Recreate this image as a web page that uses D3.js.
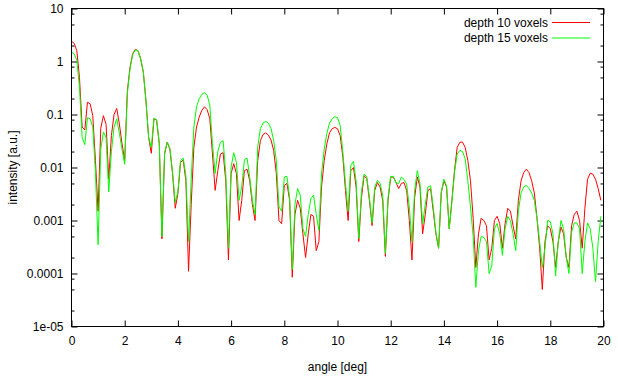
<html>
<head>
<title>intensity vs angle</title>
<script src="https://d3js.org/d3.v7.min.js"></script>
<style>
  body { margin: 0; background: #fff; }
  text { font-family: "Liberation Sans", Arial, sans-serif; font-size: 12px; fill: #000; }
</style>
</head>
<body>
<div id="chart"></div>
<script>

// sampled every 0.1 deg, starting at 0
var angleStep = 0.1;

var depth10 = [
  2.4, 2.2, 1.6, 0.5, 0.058, 0.051, 0.17, 0.16, 0.095, 0.0135,
  0.0015, 0.055, 0.095, 0.065, 0.006, 0.04, 0.1, 0.13, 0.066, 0.028,
  0.0135, 0.28, 0.78, 1.4, 1.7, 1.6, 1.12, 0.63, 0.18, 0.037,
  0.0185, 0.083, 0.078, 0.028, 0.00045, 0.018, 0.03, 0.022, 0.0076, 0.0017,
  0.0032, 0.0126, 0.0138, 0.0056, 0.00011, 0.002, 0.024, 0.058, 0.089, 0.12,
  0.14, 0.123, 0.083, 0.018, 0.0037, 0.0087, 0.018, 0.019, 0.0056, 0.00018,
  0.0077, 0.0118, 0.0077, 0.001, 0.0024, 0.0087, 0.0093, 0.0056, 0.002, 0.001,
  0.0135, 0.032, 0.042, 0.045, 0.041, 0.033, 0.021, 0.0077, 0.001, 0.00087,
  0.0046, 0.005, 0.0024, 0.000085, 0.0013, 0.0024, 0.0017, 0.00056, 0.0002, 0.00056,
  0.0013, 0.0012, 0.00027, 0.0004, 0.0043, 0.0135, 0.028, 0.045, 0.054, 0.057,
  0.054, 0.04, 0.016, 0.0037, 0.001, 0.0087, 0.01, 0.0043, 0.0004, 0.0027,
  0.007, 0.0062, 0.0024, 0.0008, 0.0037, 0.0052, 0.0043, 0.0024, 0.00021, 0.0024,
  0.0066, 0.0066, 0.0052, 0.004, 0.005, 0.0052, 0.0037, 0.001, 0.00018, 0.0027,
  0.0066, 0.0043, 0.00056, 0.0013, 0.0037, 0.004, 0.0015, 0.00056, 0.0003, 0.0033,
  0.0056, 0.0043, 0.0007, 0.0024, 0.009, 0.024, 0.03, 0.03, 0.024, 0.0135,
  0.0056, 0.0011, 0.00013, 0.00056, 0.0011, 0.001, 0.0008, 0.00018, 0.0003, 0.001,
  0.0012, 0.00087, 0.0003, 0.00087, 0.0017, 0.0015, 0.0008, 0.00045, 0.0024, 0.0056,
  0.008, 0.0093, 0.008, 0.0056, 0.0033, 0.0011, 0.0003, 0.00005, 0.0004, 0.0008,
  0.0007, 0.0004, 0.00013, 0.0004, 0.00075, 0.00056, 0.0002, 0.00013, 0.0008, 0.0013,
  0.0015, 0.001, 0.0003, 0.0017, 0.006, 0.0078, 0.0075, 0.006, 0.004, 0.0024
];

var depth15 = [
  1.5, 1.4, 1.05, 0.33, 0.037, 0.027, 0.087, 0.083, 0.058, 0.008,
  0.00035, 0.022, 0.047, 0.037, 0.0035, 0.02, 0.058, 0.083, 0.044, 0.022,
  0.0115, 0.25, 0.72, 1.35, 1.65, 1.6, 1.12, 0.63, 0.18, 0.037,
  0.024, 0.085, 0.08, 0.029, 0.0005, 0.019, 0.03, 0.023, 0.008, 0.0022,
  0.0035, 0.0135, 0.015, 0.007, 0.0004, 0.006, 0.058, 0.14, 0.2, 0.24,
  0.26, 0.23, 0.15, 0.028, 0.0077, 0.02, 0.03, 0.032, 0.0077, 0.0003,
  0.0102, 0.019, 0.0125, 0.0024, 0.0043, 0.014, 0.015, 0.0066, 0.0024, 0.0013,
  0.024, 0.054, 0.069, 0.074, 0.069, 0.055, 0.032, 0.0135, 0.0018, 0.0015,
  0.0066, 0.0068, 0.0027, 0.00012, 0.002, 0.004, 0.003, 0.0007, 0.0005, 0.0013,
  0.0026, 0.003, 0.0013, 0.00065, 0.0077, 0.022, 0.044, 0.069, 0.083, 0.091,
  0.087, 0.062, 0.02, 0.005, 0.0015, 0.011, 0.013, 0.0056, 0.00046, 0.0035,
  0.0075, 0.0067, 0.0027, 0.0009, 0.0043, 0.0057, 0.005, 0.003, 0.00024, 0.0027,
  0.0068, 0.0068, 0.0051, 0.005, 0.0066, 0.006, 0.0048, 0.0018, 0.0004, 0.0037,
  0.0087, 0.005, 0.00087, 0.002, 0.0043, 0.0045, 0.0018, 0.0006, 0.0003, 0.0034,
  0.006, 0.0045, 0.0007, 0.0022, 0.0081, 0.018, 0.021, 0.02, 0.0145, 0.0056,
  0.0018, 0.0005, 0.000055, 0.00027, 0.0005, 0.00048, 0.0004, 0.0001, 0.00014, 0.0007,
  0.00088, 0.00056, 0.00022, 0.0007, 0.0012, 0.001, 0.00056, 0.00027, 0.0015, 0.0033,
  0.0043, 0.0046, 0.004, 0.0033, 0.0024, 0.0011, 0.0004, 0.00013, 0.0003, 0.001,
  0.00095, 0.00056, 0.00009, 0.0004, 0.001, 0.0007, 0.0002, 0.0001, 0.0006, 0.0009,
  0.0009, 0.0007, 0.0001, 0.0004, 0.0009, 0.0007, 0.0003, 0.00007, 0.0004, 0.0012
];

var seriesNames = ["depth 10 voxels", "depth 15 voxels"];
var seriesColors = ["#ff0000", "#00ff00"];

var xTicks = [0, 2, 4, 6, 8, 10, 12, 14, 16, 18, 20];
var yTicks = [1e-5, 1e-4, 1e-3, 1e-2, 1e-1, 1, 10];
var yTickLabels = ["1e-05", "0.0001", "0.001", "0.01", "0.1", "1", "10"];
var yMinorSteps = [2, 5, 8];

var width = 618, height = 377;
// plot box (window.top is taken, so prefix these)
var plotL = 71.5, plotR = 603.5, plotT = 8.5, plotB = 326.5;

var svg = d3.select("#chart").append("svg")
            .attr("width", width)
            .attr("height", height);

var x = d3.scaleLinear().domain([0, 20]).range([plotL, plotR]);
var y = d3.scaleLog().domain([1e-5, 10]).range([plotB, plotT]);

// minor ticks on the log axis at 2, 5, 8 of every decade
var yMinor = [];
yTicks.slice(0, -1).forEach((d) => {
  yMinorSteps.forEach((m) => { yMinor.push(d * m); });
});

function tidy(g) {
  g.select(".domain").remove();
  g.selectAll("line").attr("stroke", "#000");
  g.attr("font-size", null).attr("font-family", null);
}

// bottom + left axes carry the labels, ticks point inwards
svg.append("g")
   .attr("transform", "translate(0," + plotB + ")")
   .call(d3.axisBottom(x).tickValues(xTicks).tickSizeInner(-6).tickSizeOuter(0)
           .tickPadding(10).tickFormat(d3.format("d")))
   .call(tidy);

svg.append("g")
   .attr("transform", "translate(" + plotL + ",0)")
   .call(d3.axisLeft(y).tickValues(yTicks).tickSizeInner(-6).tickSizeOuter(0)
           .tickPadding(8).tickFormat((d, i) => yTickLabels[i]))
   .call(tidy);

svg.append("g")
   .attr("transform", "translate(" + plotL + ",0)")
   .call(d3.axisLeft(y).tickValues(yMinor).tickSizeInner(-3).tickSizeOuter(0).tickFormat(""))
   .call(tidy);

// mirrored ticks on top and right
svg.append("g")
   .attr("transform", "translate(0," + plotT + ")")
   .call(d3.axisTop(x).tickValues(xTicks).tickSizeInner(-6).tickSizeOuter(0).tickFormat(""))
   .call(tidy);

svg.append("g")
   .attr("transform", "translate(" + plotR + ",0)")
   .call(d3.axisRight(y).tickValues(yTicks).tickSizeInner(-6).tickSizeOuter(0).tickFormat(""))
   .call(tidy);

svg.append("g")
   .attr("transform", "translate(" + plotR + ",0)")
   .call(d3.axisRight(y).tickValues(yMinor).tickSizeInner(-3).tickSizeOuter(0).tickFormat(""))
   .call(tidy);

// the curves
var line = d3.line()
             .x((d, i) => x(i * angleStep))
             .y((d) => y(d));

[depth10, depth15].forEach((s, k) => {
  svg.append("path")
     .datum(s)
     .attr("d", line)
     .attr("fill", "none")
     .attr("stroke", seriesColors[k])
     .attr("stroke-width", 1);
});

// frame
svg.append("rect")
   .attr("x", plotL).attr("y", plotT)
   .attr("width", plotR - plotL).attr("height", plotB - plotT)
   .attr("fill", "none")
   .attr("stroke", "#000")
   .attr("stroke-width", 1);

// legend, top right
var legend = svg.append("g");
seriesNames.forEach((name, k) => {
  var ly = 22.5 + k * 15.5;
  legend.append("text")
        .attr("x", 548)
        .attr("y", ly)
        .attr("dy", "0.35em")
        .attr("text-anchor", "end")
        .text(name);
  legend.append("line")
        .attr("x1", 552).attr("x2", 590)
        .attr("y1", ly).attr("y2", ly)
        .attr("stroke", seriesColors[k]);
});

// axis titles
svg.append("text")
   .attr("x", (plotL + plotR) / 2)
   .attr("y", 371)
   .attr("text-anchor", "middle")
   .text("angle [deg]");

svg.append("text")
   .attr("transform", "translate(17," + ((plotT + plotB) / 2) + ") rotate(-90)")
   .attr("text-anchor", "middle")
   .text("intensity [a.u.]");

</script>
</body>
</html>
